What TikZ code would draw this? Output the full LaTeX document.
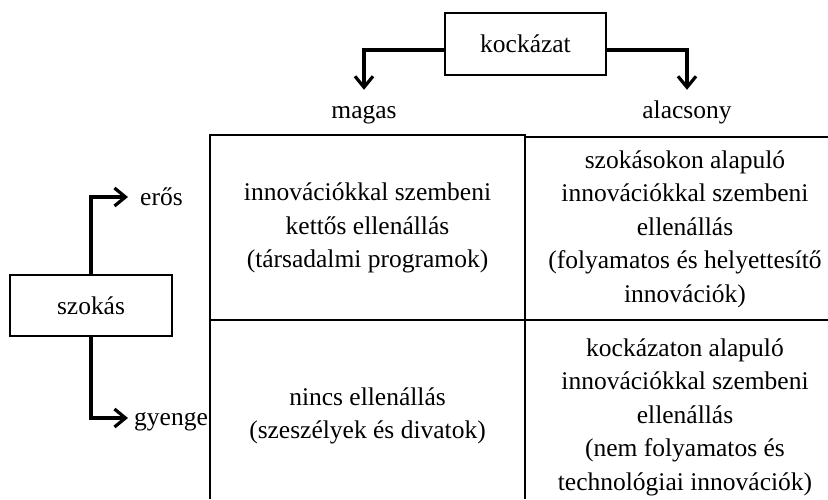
\documentclass[tikz,border=0pt]{standalone}
\usepackage{fontspec}
\setmainfont{Liberation Serif}
\usetikzlibrary{arrows.meta}
\begin{document}
\begin{tikzpicture}[x=1pt,y=-1pt,
  txt/.style={font=\fontsize{25.5}{33.5}\selectfont, align=center, inner sep=0pt},
  labelbox/.style={txt, draw, line width=1.3pt, minimum width=161pt, minimum height=62pt},
  headtxt/.style={txt, anchor=base, text height=28pt},
  arrowline/.style={line width=3.2pt, -{Straight Barb[length=11pt,width=18pt,line width=3.2pt]}},
  gridline/.style={line width=1.5pt}]
\useasboundingbox (0,0) rectangle (828,499);

% column and row heads
\node[labelbox] (kock) at (525.5,44) {kockázat};
\node[headtxt] (magas) at (364,118) {magas};
\node[headtxt] (alacs) at (687,118) {alacsony};
\node[labelbox, minimum width=162pt, minimum height=61pt] (szokas) at (91,305.5) {szokás};
\node[txt, anchor=base west] (eros) at (140,205) {erős};
\node[txt, anchor=base west] (gyenge) at (134,425) {gyenge};

% branches
\draw[arrowline] (kock.west |- 0,50) -| (magas.north);
\draw[arrowline] (kock.east |- 0,50) -| (alacs.north);
\draw[arrowline] (szokas.north) |- ([xshift=-12pt,yshift=8pt]eros.base west);
\draw[arrowline] (szokas.south) |- ([xshift=-6pt,yshift=7pt]gyenge.base west);

% table grid
\coordinate (tl) at (210,135);
\coordinate (tm) at (525,135);
\coordinate (tr) at (828,137);
\draw[gridline] (210,499) -- (tl) -- (tm) -- (525,499);
\draw[gridline] (525,137) -- (tr);
\draw[gridline] (210,320) -- (828,320);

% cells
\node[txt] (c11) at (367.5,228) {innovációkkal szembeni\\kettős ellenállás\\(társadalmi programok)};
\node[txt] (c12) at (685,229) {szokásokon alapuló\\innovációkkal szembeni\\ellenállás\\(folyamatos és helyettesítő\\innovációk)};
\node[txt] (c21) at (367.5,416) {nincs ellenállás\\(szeszélyek és divatok)};
\node[txt] (c22) at (685,417) {kockázaton alapuló\\innovációkkal szembeni\\ellenállás\\(nem folyamatos és\\technológiai innovációk)};
\end{tikzpicture}
\end{document}
